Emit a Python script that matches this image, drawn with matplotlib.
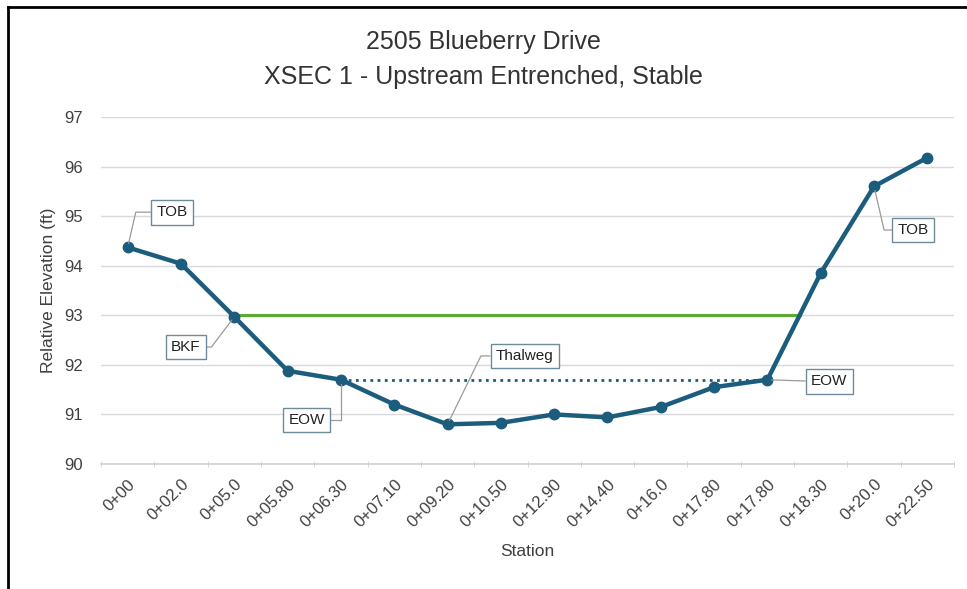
import matplotlib
matplotlib.use("Agg")
import matplotlib.pyplot as plt
import numpy as np
from matplotlib.lines import Line2D
import matplotlib.transforms as mtransforms

stations = ["0+00", "0+02.0", "0+05.0", "0+05.80", "0+06.30", "0+07.10", "0+09.20",
            "0+10.50", "0+12.90", "0+14.40", "0+16.0", "0+17.80", "0+17.80", "0+18.30",
            "0+20.0", "0+22.50"]
elevation = [94.37, 94.04, 92.97, 91.88, 91.70, 91.20, 90.80, 90.83, 91.00, 90.94,
             91.15, 91.55, 91.70, 93.85, 95.60, 96.18]
bankfull = 93.0
bkf_start = 2
water_surface = 91.70
eow_start, eow_end = 4, 12

labels = ["TOB", "BKF", "EOW", "Thalweg", "EOW", "TOB"]
label_idx = [0, 2, 4, 6, 12, 14]
label_pos = [(0.83, 95.08), (1.09, 92.36), (3.36, 90.89), (7.45, 92.18), (13.16, 91.67), (14.73, 94.72)]
# leader styles: (relpos on box, connection style)
leaders = [((0, 0.5), "angle,angleA=0,angleB=77,rad=0"),
           ((1, 0.5), "angle,angleA=0,angleB=53,rad=0"),
           ((1, 0.5), "angle,angleA=0,angleB=90,rad=0"),
           ((0, 0.5), "angle,angleA=0,angleB=64,rad=0"),
           ((0, 0.5), "arc3,rad=0"),
           ((0, 0.5), "angle,angleA=0,angleB=103,rad=0")]

plt.rcParams['font.family'] = ['Liberation Sans', 'DejaVu Sans']

fig = plt.figure(figsize=(9.67, 5.89), dpi=100)
ax = fig.add_axes([101/967, 1-464/589, 853/967, 347/589])

x = np.arange(len(stations))
line_color = "#1c5c7c"

# bankfull line ends where profile crosses back above bankfull on right side
xr = np.arange(eow_end, len(stations))
yr = np.array(elevation[eow_end:])
bkf_end = np.interp(bankfull, yr, xr)
ax.plot([bkf_start, bkf_end], [bankfull, bankfull], color="#5aaa32", lw=2.2, zorder=2)
ax.plot([eow_start, eow_end], [water_surface, water_surface], color=line_color, lw=2,
        ls=(0, (1, 1.6)), zorder=2)

ax.plot(x, elevation, color=line_color, lw=3.2, marker="o", ms=7.5, zorder=3,
        solid_capstyle="round")

for lab, i, (tx, ty), (rp, cs) in zip(labels, label_idx, label_pos, leaders):
    ax.annotate(lab, xy=(x[i], elevation[i]), xytext=(tx, ty), ha="center", va="center",
                fontsize=11, color="#222222",
                bbox=dict(boxstyle="square,pad=0.35", fc="white", ec="#6d8a9a", lw=1),
                arrowprops=dict(arrowstyle="-", color="#9a9a9a", lw=0.9, relpos=rp,
                                connectionstyle=cs, shrinkA=0, shrinkB=3), zorder=4)

ax.set_xlim(-0.5, len(stations) - 0.5)
ax.set_ylim(90, 97)
ax.set_yticks(range(90, 98))
ax.set_xticks(x)
ax.set_xticklabels(stations, rotation=45, ha="right", rotation_mode="anchor", fontsize=12,
                   color="#404040")
offset = mtransforms.ScaledTranslation(10/100, 0, fig.dpi_scale_trans)
for t in ax.get_xticklabels():
    t.set_transform(t.get_transform() + offset)
ax.set_xticks(np.arange(-0.5, len(stations), 1), minor=True)
ax.tick_params(axis="x", which="major", length=0, pad=9)
ax.tick_params(axis="x", which="minor", length=5, color="#d0d0d0", direction="inout")
ax.tick_params(axis="y", length=0, labelsize=12, labelcolor="#404040", pad=13)
ax.grid(axis="y", color="#d9d9d9", lw=1)
ax.set_axisbelow(True)
for s in ["top", "right", "left"]:
    ax.spines[s].set_visible(False)
ax.spines["bottom"].set_color("#d0d0d0")
ax.spines["bottom"].set_linewidth(1.2)

ax.set_xlabel("Station", fontsize=12.5, color="#404040", labelpad=10)
ax.set_ylabel("Relative Elevation (ft)", fontsize=12.5, color="#404040", labelpad=6)

fig.text(0.5, 1-42/589, "2505 Blueberry Drive", ha="center", va="center", fontsize=18,
         color="#333333")
fig.text(0.5, 1-77/589, "XSEC 1 - Upstream Entrenched, Stable", ha="center", va="center",
         fontsize=18, color="#333333")

fig.add_artist(Line2D([8/967, 1], [1-7/589, 1-7/589], color="black", lw=2))
fig.add_artist(Line2D([8/967, 8/967], [0, 1-7/589], color="black", lw=2))

fig.savefig("out.png", dpi=100)
